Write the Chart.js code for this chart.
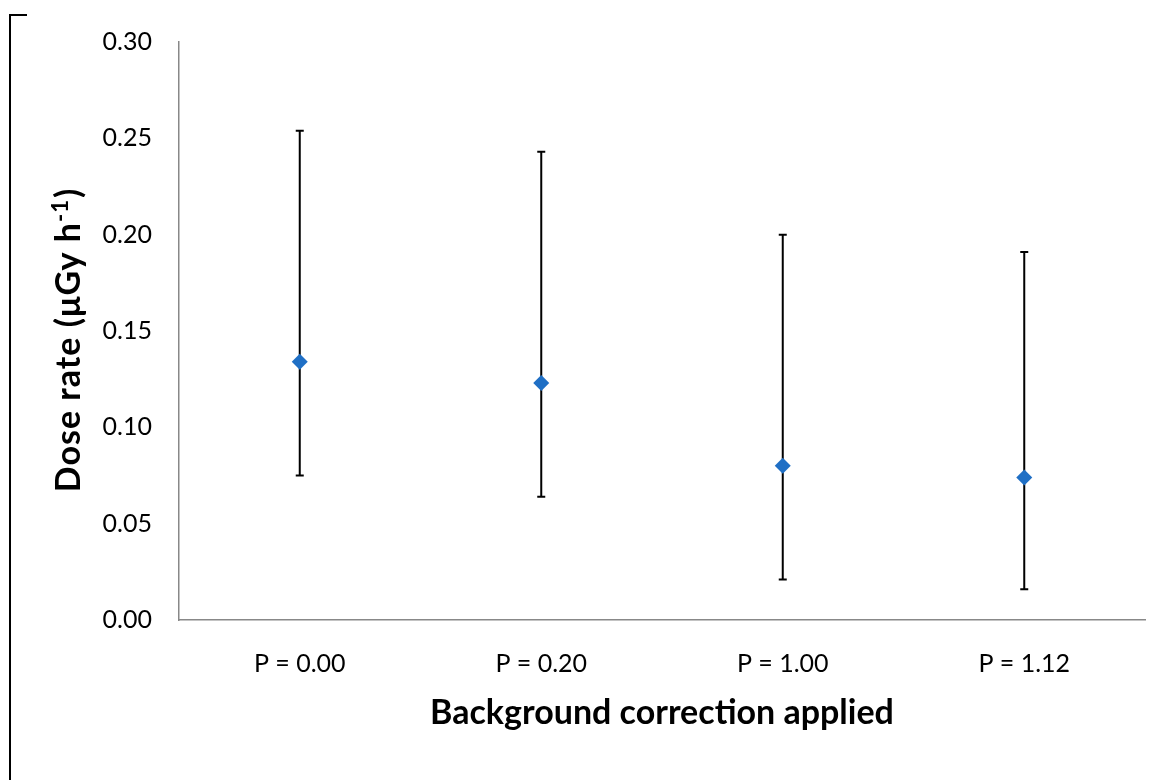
<!DOCTYPE html>
<html>
<head>
<meta charset="utf-8">
<script src="https://cdn.jsdelivr.net/npm/chart.js@4/dist/chart.umd.min.js"></script>
<style>
  html, body { margin: 0; padding: 0; background: #fff; }
  #wrap { position: relative; width: 1168px; height: 780px; }
  #c { position: absolute; left: 0; top: 0; }
  .bl { position: absolute; left: 9px; top: 14px; width: 2px; height: 766px; background: #000; }
  .bt { position: absolute; left: 9px; top: 14px; width: 18px; height: 2px; background: #000; }
</style>
</head>
<body>
<div id="wrap">
  <canvas id="c" width="1168" height="780"></canvas>
  <div class="bl"></div>
  <div class="bt"></div>
</div>
<script>
const categories = ['P = 0.00', 'P = 0.20', 'P = 1.00', 'P = 1.12'];
const doseRate   = [0.134, 0.123, 0.080, 0.074];
const errLower   = [0.075, 0.064, 0.021, 0.016];
const errUpper   = [0.254, 0.243, 0.200, 0.191];
const yTicks     = [0.00, 0.05, 0.10, 0.15, 0.20, 0.25, 0.30];
const yTitleMain = 'Dose rate (μGy h';
const yTitleSup  = '-1';
const yTitleEnd  = ')';
const xTitle     = 'Background correction applied';

const FONT = 'Lato, "Open Sans", sans-serif';

const errorBars = {
  id: 'errorBars',
  beforeDatasetsDraw(chart) {
    const ctx = chart.ctx;
    const xs = chart.scales.x, ys = chart.scales.y;
    ctx.save();
    ctx.strokeStyle = '#000';
    ctx.lineWidth = 2;
    categories.forEach((c, i) => {
      const x = xs.getPixelForValue(i);
      const yl = ys.getPixelForValue(errLower[i]);
      const yu = ys.getPixelForValue(errUpper[i]);
      ctx.beginPath();
      ctx.moveTo(x, yl); ctx.lineTo(x, yu);
      ctx.moveTo(x - 4, yl); ctx.lineTo(x + 4, yl);
      ctx.moveTo(x - 4, yu); ctx.lineTo(x + 4, yu);
      ctx.stroke();
    });
    ctx.restore();
  }
};

const yTitlePlugin = {
  id: 'yTitle',
  afterDraw(chart) {
    const ctx = chart.ctx;
    const mainFont = 'bold 34px ' + FONT;
    const supFont = 'bold 22px ' + FONT;
    ctx.save();
    if ('letterSpacing' in ctx) ctx.letterSpacing = '1px';
    ctx.font = mainFont;
    const w1 = ctx.measureText(yTitleMain).width;
    const w3 = ctx.measureText(yTitleEnd).width;
    ctx.font = supFont;
    const w2 = ctx.measureText(yTitleSup).width + 1;
    const total = w1 + w2 + w3;
    const cy = (chart.chartArea.top + chart.chartArea.bottom) / 2 + 9;
    ctx.translate(80, cy);
    ctx.rotate(-Math.PI / 2);
    ctx.fillStyle = '#000';
    ctx.textBaseline = 'alphabetic';
    ctx.textAlign = 'left';
    let x = -total / 2;
    ctx.font = mainFont;
    ctx.fillText(yTitleMain, x, 0);
    x += w1;
    ctx.font = supFont;
    ctx.fillText(yTitleSup, x, -12);
    x += w2;
    ctx.font = mainFont;
    ctx.fillText(yTitleEnd, x, 0);
    ctx.restore();
  }
};

new Chart(document.getElementById('c'), {
  type: 'line',
  data: {
    labels: categories,
    datasets: [{
      data: doseRate,
      showLine: false,
      pointStyle: 'rectRot',
      pointRadius: 8,
      pointHoverRadius: 8,
      backgroundColor: '#1F6FC5',
      borderColor: '#1F6FC5',
      pointBorderWidth: 0
    }]
  },
  options: {
    responsive: false,
    animation: false,
    devicePixelRatio: 1,
    layout: { padding: { left: 0, top: 40, right: 23, bottom: 0 } },
    plugins: { legend: { display: false }, tooltip: { enabled: false } },
    scales: {
      x: {
        type: 'category',
        offset: true,
        grid: { display: false, drawTicks: false },
        border: { display: true, color: '#888888', width: 1.5 },
        ticks: { color: '#000', font: { family: FONT, size: 25 }, padding: 29, maxRotation: 0 },
        title: {
          display: true,
          text: xTitle,
          color: '#000',
          font: { family: FONT, size: 34, weight: 'bold' },
          padding: { top: 0, bottom: 47 }
        },
        afterFit(scale) { scale.height = 160; }
      },
      y: {
        min: 0, max: 0.30,
        afterBuildTicks(scale) { scale.ticks = yTicks.map(v => ({ value: v })); },
        grid: { display: false, drawTicks: false },
        border: { display: true, color: '#888888', width: 1.5 },
        ticks: {
          color: '#000', font: { family: FONT, size: 25 }, padding: 27,
          callback: v => Number(v).toFixed(2)
        },
        title: { display: false },
        afterFit(scale) { scale.width = 179; }
      }
    }
  },
  plugins: [errorBars, yTitlePlugin]
});
</script>
</body>
</html>
